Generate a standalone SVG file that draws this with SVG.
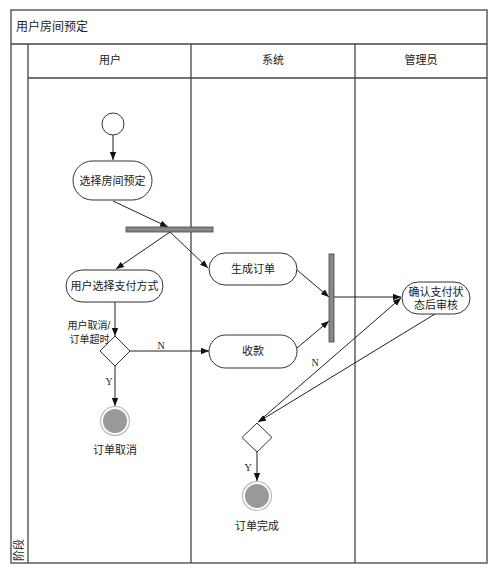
<svg xmlns="http://www.w3.org/2000/svg" width="499" height="578" viewBox="0 0 499 578">
<style>
text{font-family:"Liberation Sans","Noto Sans CJK SC",sans-serif;font-size:11px;fill:#222}
.c{text-anchor:middle}
.sm{font-size:10px}
.lbl{font-family:"Liberation Serif","Noto Sans CJK SC",serif;font-size:10px}
.frame{fill:none;stroke:#444;stroke-width:1.3}
.act{fill:#fff;stroke:#333;stroke-width:1}
.bar{fill:#888;stroke:#444;stroke-width:0.8}
.dec{fill:#fff;stroke:#333;stroke-width:1}
.edge{fill:none;stroke:#222;stroke-width:1;marker-end:url(#ah)}
</style>
<defs>
<marker id="ah" viewBox="0 0 10 10" refX="10" refY="5" markerWidth="8" markerHeight="8" markerUnits="userSpaceOnUse" orient="auto">
<path d="M0,1 L10,5 L0,9 z" fill="#111"/>
</marker>
</defs>
<rect width="499" height="578" fill="#fff"/>
<g id="swimlanes">
<rect class="frame" x="11" y="10" width="476" height="553"/>
<line class="frame" x1="11" y1="44" x2="487" y2="44"/>
<line class="frame" x1="28" y1="78" x2="487" y2="78"/>
<line class="frame" x1="28" y1="44" x2="28" y2="563"/>
<line class="frame" x1="191" y1="44" x2="191" y2="563"/>
<line class="frame" x1="355" y1="44" x2="355" y2="563"/>
<text x="16" y="31" style="font-size:12px">用户房间预定</text>
<text class="c" x="110" y="64">用户</text>
<text class="c" x="273" y="64">系统</text>
<text class="c" x="421" y="64">管理员</text>
<text class="c" transform="translate(23,550) rotate(-90)">阶段</text>
</g>
<g id="connectors">
<line class="edge" x1="113" y1="135" x2="113" y2="160"/>
<line class="edge" x1="113" y1="201" x2="168" y2="227"/>
<line class="edge" x1="170" y1="232" x2="116" y2="269"/>
<line class="edge" x1="170" y1="232" x2="208" y2="268"/>
<line class="edge" x1="297" y1="270" x2="329" y2="297"/>
<line class="edge" x1="297" y1="348" x2="329" y2="321"/>
<line class="edge" x1="334" y1="297" x2="401" y2="297"/>
<line class="edge" x1="115" y1="302" x2="115" y2="336"/>
<line class="edge" x1="130" y1="351" x2="209" y2="351"/>
<line class="edge" x1="115" y1="366" x2="115" y2="406"/>
<line class="edge" x1="258" y1="422" x2="401" y2="298"/>
<line class="edge" x1="435" y1="314" x2="258" y2="422"/>
<line class="edge" x1="257" y1="452" x2="257" y2="481"/>
<text class="lbl c" x="161" y="349">N</text>
<text class="lbl c" x="109" y="385">Y</text>
<text class="lbl c" x="315" y="366">N</text>
<text class="lbl c" x="248" y="471">Y</text>
<text class="c sm" x="89" y="329">用户取消/</text>
<text class="c sm" x="89.5" y="343">订单超时</text>
</g>
<g id="start">
<circle cx="113" cy="124" r="11" fill="#fff" stroke="#333" stroke-width="1"/>
</g>
<g id="select-room">
<rect class="act" x="73" y="161" width="79" height="39" rx="19.5"/>
<text class="c" x="112.5" y="184.5">选择房间预定</text>
</g>
<g id="fork">
<rect class="bar" x="126" y="227" width="87" height="5"/>
</g>
<g id="choose-pay">
<rect class="act" x="66" y="270" width="97" height="32" rx="16"/>
<text class="c" x="114.5" y="290">用户选择支付方式</text>
</g>
<g id="gen-order">
<rect class="act" x="209" y="253" width="88" height="32" rx="16"/>
<text class="c" x="253" y="273">生成订单</text>
</g>
<g id="collect">
<rect class="act" x="209" y="335" width="88" height="33" rx="16.5"/>
<text class="c" x="253" y="355">收款</text>
</g>
<g id="join">
<rect class="bar" x="329" y="254" width="5" height="88"/>
</g>
<g id="confirm">
<rect class="act" x="402" y="282" width="68" height="32" rx="16"/>
<text class="c" x="436" y="296">确认支付状</text>
<text class="c" x="436" y="309">态后审核</text>
</g>
<g id="decision1">
<polygon class="dec" points="115,336 130,351 115,366 100,351"/>
</g>
<g id="decision2">
<polygon class="dec" points="257,423 272,437.5 257,452 242,437.5"/>
</g>
<g id="end-cancel">
<circle cx="115" cy="421" r="14.5" fill="#fff" stroke="#bbb" stroke-width="1.2"/>
<circle cx="115" cy="421" r="12" fill="#999"/>
<text class="c" x="115" y="454">订单取消</text>
</g>
<g id="end-complete">
<circle cx="257" cy="496" r="14.5" fill="#fff" stroke="#bbb" stroke-width="1.2"/>
<circle cx="257" cy="496" r="12" fill="#999"/>
<text class="c" x="257" y="530">订单完成</text>
</g>
</svg>
